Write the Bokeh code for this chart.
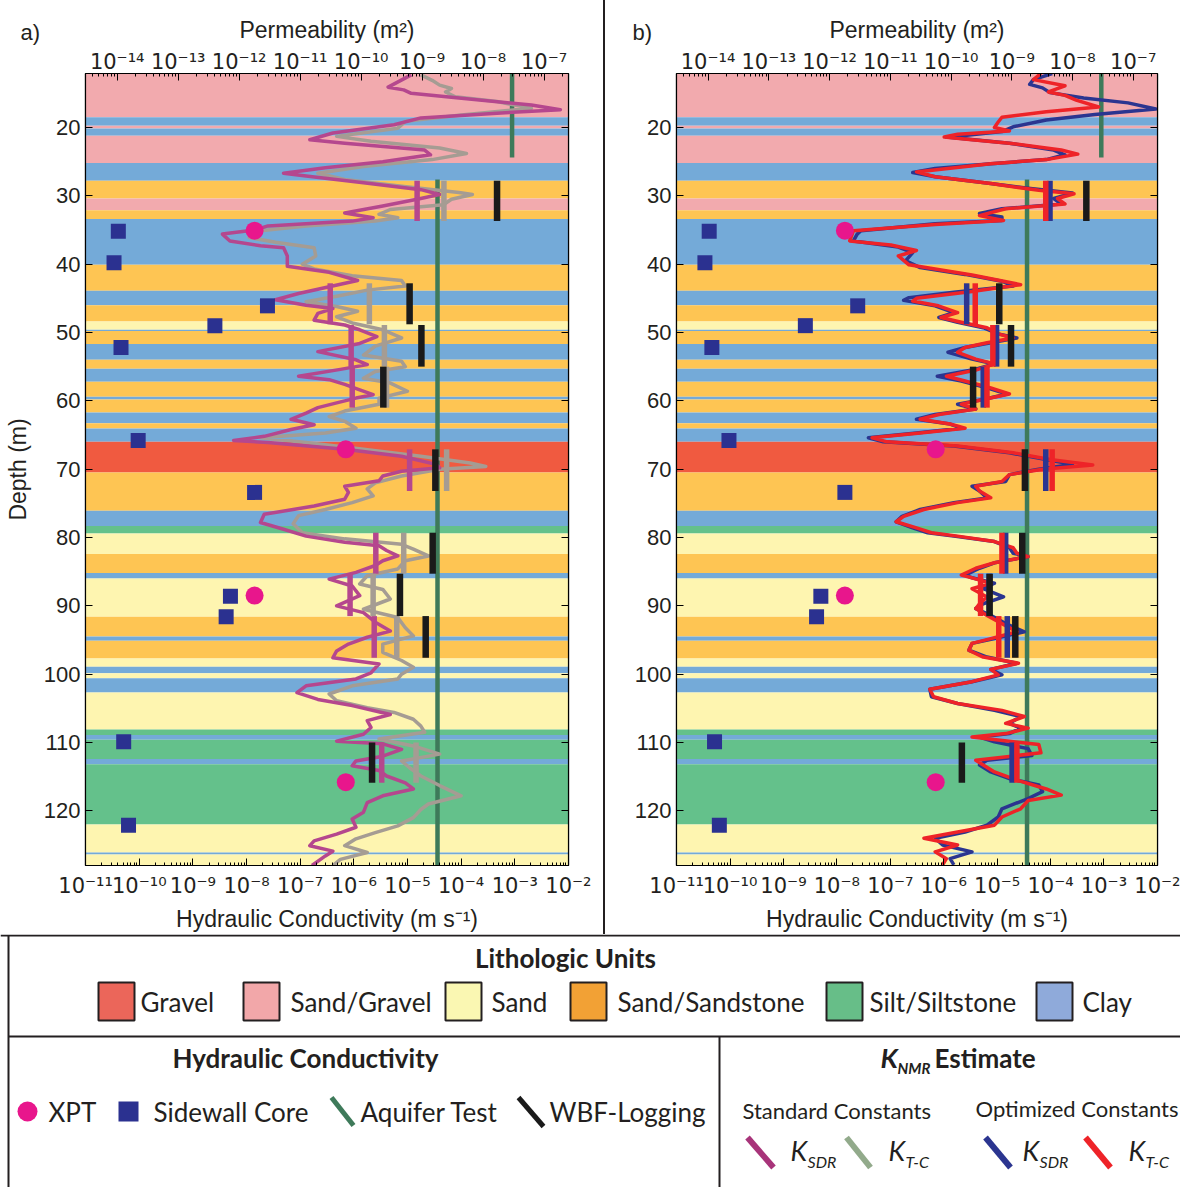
import numpy as np
from bokeh.plotting import figure
from bokeh.models import (Range1d, LogScale, LogAxis, LinearAxis, FixedTicker, Title,
                          CustomJSTickFormatter, ColumnDataSource, Label, Div)
from bokeh.layouts import row, column
from bokeh.embed import file_html
from bokeh.resources import INLINE

AX_FONT = "Liberation Sans"
TICK_FONT = "DejaVu Sans"
LEG_FONT = "Lato"
TXT = "#231F20"

# ---------------- data ----------------
# lithologic bands (depth m)
band_top = [12.1, 18.5, 19.75, 20.15, 21.2, 25.2, 27.8, 30.4, 32.1, 33.4, 40.1, 43.9, 46.0, 48.4, 49.6,
            49.8, 51.7, 54.0, 55.3, 57.2, 59.4, 59.8, 61.7, 63.3, 64.05, 66.0, 70.5, 76.1, 78.3, 79.4,
            82.4, 85.2, 86.0, 91.6, 94.5, 95.1, 97.7, 98.9, 99.85, 100.6, 102.7, 108.1, 108.9, 109.6,
            112.4, 113.2, 122.0, 126.1, 126.4]
band_bot = band_top[1:] + [128.0]
band_unit = ["Sand/Gravel", "Clay", "Sand/Gravel", "Clay", "Sand/Gravel", "Clay", "Sand/Sandstone",
             "Sand/Gravel", "Sand/Sandstone", "Clay", "Sand/Sandstone", "Clay", "Sand/Sandstone", "Sand",
             "Clay", "Sand/Sandstone", "Clay", "Sand/Sandstone", "Clay", "Sand/Sandstone", "Clay",
             "Sand/Sandstone", "Clay", "Sand/Sandstone", "Clay", "Gravel", "Sand/Sandstone", "Clay",
             "Silt/Siltstone", "Sand", "Sand/Sandstone", "Clay", "Sand", "Sand/Sandstone", "Clay",
             "Sand/Sandstone", "Sand", "Clay", "Sand", "Clay", "Sand", "Silt/Siltstone", "Clay",
             "Silt/Siltstone", "Clay", "Silt/Siltstone", "Sand", "Clay", "Sand"]

# NMR estimates: (depth m, log10 K [m/s])
ksdr_std = [(12.3, -4.93), (14.1, -5.36), (14.5, -5.07), (15.0, -4.93), (15.7, -4.04), (16.7, -2.69),
            (17.4, -2.15), (17.9, -3.33), (18.6, -4.75), (19.6, -5.25), (20.8, -6.39), (21.8, -6.82),
            (22.3, -6.17), (23.3, -4.68), (24.0, -4.57), (25.0, -5.46), (25.9, -6.53), (26.7, -7.31),
            (27.1, -6.89), (28.1, -5.82), (29.1, -4.75), (29.8, -4.40), (30.5, -4.82), (31.5, -5.46),
            (32.5, -6.17), (33.2, -5.64), (33.7, -6.03), (34.4, -7.60), (35.0, -7.85), (35.6, -8.45),
            (36.6, -8.31), (37.3, -7.74), (37.6, -7.31), (38.8, -7.24), (40.3, -7.24), (41.2, -6.46),
            (42.4, -5.93), (43.3, -6.46), (44.3, -7.03), (45.2, -7.46), (46.0, -6.89), (46.5, -6.39),
            (47.2, -6.67), (48.2, -6.74), (48.9, -6.17), (49.6, -5.89), (50.6, -5.57), (51.6, -5.89),
            (52.8, -6.67), (54.0, -5.96), (54.7, -5.75), (55.4, -6.25), (56.4, -7.03), (56.9, -6.46),
            (57.6, -6.17), (58.4, -5.89), (59.1, -5.64), (59.6, -5.96), (60.3, -6.32), (61.0, -6.67),
            (61.8, -6.89), (62.7, -7.17), (63.5, -6.74), (64.2, -7.17), (65.2, -7.67), (65.8, -8.24),
            (66.1, -7.60), (67.1, -6.17), (68.1, -5.11), (69.3, -4.47), (69.8, -4.40), (70.3, -5.11),
            (71.0, -5.46), (71.7, -5.53), (72.5, -6.17), (73.4, -6.10), (74.4, -6.17), (75.4, -6.74),
            (76.6, -7.67), (77.8, -7.74), (78.8, -7.31), (79.8, -6.89), (80.7, -6.17), (81.2, -5.53),
            (81.9, -5.39), (82.7, -5.18), (83.4, -5.46), (84.1, -5.60), (85.1, -5.96), (86.1, -6.46),
            (87.1, -6.03), (88.5, -5.89), (90.0, -6.32), (91.0, -5.82), (92.4, -5.60), (93.7, -5.32),
            (94.6, -5.75), (95.6, -6.10), (96.6, -6.32), (97.6, -6.39), (98.5, -5.53), (99.8, -5.68),
            (100.7, -5.96), (101.7, -6.89), (102.7, -7.06), (103.7, -6.67), (104.6, -6.03), (105.9, -5.32),
            (106.8, -5.75), (107.8, -5.68), (108.8, -5.82), (109.8, -6.32), (110.2, -5.46), (111.0, -5.11),
            (112.0, -5.46), (112.7, -5.96), (113.4, -6.03), (114.1, -5.53), (114.9, -5.39), (115.9, -5.04),
            (116.8, -4.89), (117.8, -5.46), (118.8, -5.75), (120.2, -5.82), (121.2, -6.03), (122.4, -5.96),
            (123.4, -6.32), (124.4, -6.74), (125.1, -6.82), (125.9, -6.39), (126.6, -6.53), (128.0, -6.78)]

ktc_std = [(12.3, -4.75), (13.1, -4.54), (13.8, -4.40), (14.3, -4.18), (14.8, -4.29), (15.5, -4.11),
           (16.2, -3.33), (17.2, -2.69), (18.2, -4.04), (19.1, -5.04), (20.1, -5.18), (21.3, -6.32),
           (22.0, -5.68), (23.0, -4.40), (23.8, -3.90), (24.7, -4.54), (25.7, -5.82), (26.7, -6.67),
           (27.6, -6.17), (28.6, -5.11), (29.5, -4.04), (29.8, -3.79), (30.5, -4.18), (31.3, -4.33),
           (32.0, -5.32), (32.7, -5.53), (33.2, -5.18), (33.7, -5.60), (34.4, -6.89), (35.1, -7.74),
           (36.1, -7.95), (36.8, -7.46), (37.6, -6.74), (38.8, -6.71), (40.0, -6.96), (40.7, -6.74),
           (41.7, -6.03), (42.4, -5.11), (43.2, -5.04), (43.8, -5.75), (44.7, -6.32), (45.5, -6.89),
           (46.2, -6.32), (46.9, -5.93), (47.7, -6.32), (48.6, -6.03), (49.6, -5.46), (50.8, -5.11),
           (52.0, -5.60), (53.3, -5.82), (54.2, -5.11), (55.0, -5.04), (55.7, -5.60), (56.7, -5.82),
           (57.4, -5.32), (58.6, -5.00), (59.6, -5.53), (60.5, -5.53), (61.5, -6.17), (62.3, -6.46),
           (63.0, -6.17), (64.0, -5.96), (64.7, -6.53), (65.4, -7.74), (66.1, -6.89), (67.1, -5.82),
           (68.1, -4.75), (69.1, -3.83), (69.6, -3.54), (70.0, -4.40), (71.0, -5.11), (72.0, -5.60),
           (72.9, -5.75), (73.9, -5.64), (74.9, -6.03), (75.9, -6.53), (76.8, -7.03), (78.0, -7.13),
           (79.3, -6.96), (80.2, -6.17), (81.0, -5.11), (81.7, -4.89), (82.7, -4.61), (83.4, -5.04),
           (84.6, -5.18), (85.6, -5.75), (86.8, -5.89), (87.6, -5.46), (89.0, -5.32), (90.5, -5.82),
           (91.7, -5.18), (93.2, -5.04), (94.4, -4.89), (95.6, -5.46), (96.8, -5.46), (98.0, -5.11),
           (99.0, -4.89), (100.0, -5.11), (100.7, -5.18), (101.7, -6.03), (102.9, -6.46), (103.9, -6.32),
           (104.9, -5.75), (105.6, -5.25), (106.6, -4.89), (107.6, -4.75), (108.5, -4.68), (109.5, -5.53),
           (110.5, -4.89), (111.7, -4.40), (112.7, -5.11), (113.7, -4.96), (114.9, -4.75), (116.3, -4.40),
           (117.8, -4.00), (119.0, -4.61), (119.8, -4.75), (121.0, -4.89), (122.2, -5.18), (123.2, -5.60),
           (124.1, -5.96), (125.1, -6.17), (126.1, -5.75), (127.1, -6.25), (128.0, -6.39)]

ksdr_opt = [(12.1, -3.97), (13.0, -4.32), (13.7, -4.39), (14.2, -4.15), (14.9, -4.01), (15.7, -3.38),
            (16.4, -2.55), (17.3, -2.03), (18.1, -3.17), (18.9, -4.08), (19.9, -4.70), (20.6, -4.91),
            (21.3, -5.74), (21.4, -5.95), (22.3, -4.77), (23.3, -3.94), (24.0, -3.73), (24.7, -4.08),
            (25.3, -5.12), (26.0, -6.16), (26.6, -6.58), (27.2, -6.16), (28.2, -5.12), (28.9, -4.42),
            (29.6, -3.59), (30.4, -3.94), (31.2, -3.80), (31.9, -4.91), (32.6, -5.33), (33.1, -4.91),
            (33.6, -4.91), (34.1, -6.16), (35.1, -7.55), (35.6, -7.62), (36.6, -7.69), (37.5, -6.85),
            (38.3, -6.58), (39.5, -6.71), (40.5, -6.44), (41.5, -5.60), (42.5, -4.91), (43.2, -4.70),
            (44.1, -5.81), (44.9, -6.65), (45.3, -6.75), (46.1, -6.16), (47.1, -5.81), (47.8, -6.09),
            (48.5, -5.74), (49.3, -5.26), (50.2, -4.98), (50.8, -4.63), (51.5, -5.12), (52.2, -5.60),
            (52.9, -5.92), (53.9, -5.47), (54.6, -5.05), (55.5, -5.47), (56.4, -6.12), (57.1, -5.67),
            (58.1, -5.19), (59.0, -4.81), (59.8, -5.26), (60.5, -5.74), (61.2, -5.40), (62.0, -6.16),
            (62.7, -6.51), (63.4, -5.88), (64.0, -5.67), (64.7, -6.51), (65.4, -7.41), (66.0, -7.13),
            (66.6, -5.81), (67.6, -4.77), (68.6, -4.08), (69.3, -3.59), (70.0, -4.22), (70.8, -4.77),
            (71.8, -4.84), (72.5, -5.47), (73.2, -5.33), (74.2, -5.19), (74.9, -5.81), (75.9, -6.44),
            (76.9, -6.78), (77.7, -6.89), (78.6, -6.58), (79.3, -6.30), (79.8, -5.81), (80.6, -5.05),
            (81.5, -4.77), (82.3, -4.70), (82.8, -4.42), (83.7, -5.05), (84.5, -5.33), (85.5, -5.60),
            (85.9, -5.47), (86.7, -5.05), (87.5, -5.26), (88.7, -4.88), (89.7, -5.26), (90.4, -5.40),
            (91.4, -5.12), (92.6, -4.84), (93.8, -4.49), (94.8, -5.05), (95.5, -5.47), (96.5, -5.53),
            (97.5, -5.19), (98.4, -4.63), (99.3, -5.12), (100.1, -4.91), (101.1, -5.47), (102.2, -6.26),
            (103.3, -6.23), (104.3, -5.74), (105.3, -5.05), (106.2, -4.56), (107.2, -4.77), (107.9, -4.56),
            (108.7, -4.77), (109.2, -5.33), (109.9, -5.05), (110.9, -4.42), (111.9, -4.35), (112.6, -5.19),
            (113.3, -5.33), (114.3, -5.12), (115.3, -4.77), (116.2, -4.22), (117.2, -4.15), (118.2, -4.42),
            (119.7, -4.91), (120.9, -4.98), (122.1, -5.19), (123.1, -5.60), (124.0, -6.16), (125.0, -6.02),
            (126.0, -5.47), (127.0, -5.88), (127.9, -5.81)]

ktc_opt = [(12.1, -4.18), (13.0, -4.32), (13.9, -3.73), (14.8, -4.04), (15.3, -3.73), (16.0, -3.52),
           (17.0, -3.10), (17.7, -4.08), (18.5, -4.91), (19.2, -4.98), (20.0, -5.05), (20.5, -4.77),
           (21.0, -5.74), (21.4, -5.99), (21.8, -5.47), (22.3, -4.77), (23.3, -3.80), (23.9, -3.49),
           (24.7, -4.08), (25.3, -5.12), (26.5, -6.51), (27.2, -6.16), (28.2, -5.12), (29.2, -4.22),
           (29.7, -3.56), (30.4, -3.87), (31.2, -3.73), (31.9, -4.84), (32.9, -5.33), (33.6, -4.88),
           (34.2, -6.16), (35.1, -7.69), (36.6, -7.76), (37.2, -6.99), (38.0, -6.51), (38.8, -6.85),
           (40.1, -6.65), (41.6, -5.47), (43.0, -4.56), (44.0, -5.47), (45.0, -6.51), (45.4, -6.58),
           (46.1, -6.10), (47.1, -5.74), (47.8, -6.05), (48.5, -5.67), (49.3, -5.19), (50.2, -4.98),
           (50.8, -4.70), (51.5, -5.19), (52.2, -5.60), (52.9, -5.74), (53.9, -5.40), (54.6, -5.05),
           (55.5, -5.40), (56.4, -5.95), (57.1, -5.60), (58.1, -5.12), (59.0, -4.77), (59.8, -5.26),
           (60.5, -5.67), (61.2, -5.40), (62.0, -6.09), (62.7, -6.44), (63.4, -5.88), (64.0, -5.60),
           (64.7, -6.44), (65.4, -7.34), (66.0, -7.06), (66.6, -5.74), (67.6, -4.70), (68.6, -4.01),
           (69.4, -3.21), (70.0, -4.15), (70.8, -4.77), (71.8, -4.91), (72.5, -5.40), (73.2, -5.33),
           (74.2, -5.12), (74.9, -5.74), (75.9, -6.37), (76.9, -6.75), (77.7, -6.89), (78.6, -6.51),
           (79.3, -6.23), (79.8, -5.74), (80.6, -5.05), (81.5, -4.70), (82.3, -4.63), (82.8, -4.42),
           (83.7, -5.05), (84.5, -5.40), (85.5, -5.67), (85.9, -5.47), (86.7, -5.12), (87.5, -5.47),
           (88.7, -5.19), (89.7, -5.33), (90.4, -5.40), (91.4, -5.19), (92.6, -4.91), (93.8, -4.63),
           (94.8, -5.12), (95.5, -5.47), (96.5, -5.53), (97.5, -5.26), (98.4, -4.60), (99.3, -5.12),
           (100.1, -4.98), (101.1, -5.47), (102.2, -6.26), (103.3, -6.19), (104.3, -5.74), (105.3, -4.91),
           (106.2, -4.49), (107.2, -4.84), (107.9, -4.42), (108.7, -4.84), (109.2, -5.47), (110.3, -4.22),
           (111.5, -4.18), (112.6, -5.40), (113.3, -5.26), (114.3, -5.05), (115.5, -4.63), (116.8, -4.08),
           (117.7, -3.80), (118.5, -4.42), (119.7, -4.56), (120.9, -4.91), (122.1, -5.05), (123.1, -5.74),
           (124.0, -6.37), (125.0, -5.74), (126.0, -6.16), (127.0, -5.95), (127.9, -6.02)]

# interval averages (depth top/bottom, log10 K)
avg_top = [27.8, 42.8, 48.9, 55.0, 67.1, 79.3, 85.3, 91.5, 110.0]
avg_bot = [33.7, 48.8, 55.0, 61.0, 73.2, 85.3, 91.5, 97.6, 115.9]
wbf_log = [-3.33, -4.96, -4.74, -5.45, -4.48, -4.53, -5.14, -4.66, -5.66]
ksdr_std_avg = [-4.82, -6.44, -6.05, -6.03, -4.96, -5.59, -6.07, -5.62, -5.48]
ktc_std_avg = [-4.32, -5.71, -5.43, -5.39, -4.27, -5.07, -5.64, -5.20, -4.84]
ksdr_opt_avg = [-4.01, -5.57, -5.01, -5.26, -4.09, -4.84, -5.15, -4.81, -4.72]
ktc_opt_avg = [-4.09, -5.41, -5.08, -5.19, -3.97, -4.91, -5.31, -4.97, -4.63]

# aquifer tests
aq_top = [12.1, 27.6]
aq_bot = [24.4, 128.0]
aq_log = [-3.05, -4.44]

# XPT and sidewall core
xpt_depth = [35.1, 67.1, 88.5, 115.8]
xpt_log = [-7.85, -6.15, -7.85, -6.15]
core_depth = [35.2, 39.8, 46.1, 49.0, 52.2, 65.8, 73.4, 88.6, 91.6, 109.9, 122.1]
core_log = [-10.39, -10.47, -7.61, -8.59, -10.34, -10.02, -7.85, -8.30, -8.38, -10.29, -10.20]

k_ticks = list(range(-11, -1))        # exponents, bottom axis
perm_ticks = list(range(-14, -6))     # exponents, top axis
depth_ticks = [20, 30, 40, 50, 60, 70, 80, 90, 100, 110, 120]

unit_names = ["Gravel", "Sand/Gravel", "Sand", "Sand/Sandstone", "Silt/Siltstone", "Clay"]
band_colors = {"Gravel": "#F05A40", "Sand/Gravel": "#F2AAAE", "Sand": "#FEF5B0",
               "Sand/Sandstone": "#FEC553", "Silt/Siltstone": "#64C18B", "Clay": "#74AAD8"}
swatch_colors = ["#EB665A", "#F2A7A9", "#FAF7B2", "#F2A135", "#67BE88", "#8FAADA"]

C_KSDR_STD = "#B5478E"
C_KTC_STD = "#A59C93"
C_KSDR_OPT = "#2B3590"
C_KTC_OPT = "#EE2328"
C_AQ = "#3E7A5A"
C_WBF = "#1A1A1A"
C_XPT = "#E8168C"
C_CORE = "#2B3190"

K_LO, K_HI = 10 ** -11.002, 10 ** -1.998
PERM_LO, PERM_HI = 10 ** -14.52, 10 ** -6.60
DEPTH_TOP, DEPTH_BOT = 12.1, 128.0

SUP_JS = """
const e = Math.round(Math.log10(tick));
const m = {"-":"\u207b","0":"\u2070","1":"\u00b9","2":"\u00b2","3":"\u00b3","4":"\u2074",
           "5":"\u2075","6":"\u2076","7":"\u2077","8":"\u2078","9":"\u2079"};
return "10" + String(e).split("").map(c => m[c]).join("");
"""


def style_axis(ax, tick_font=AX_FONT, tick_size="22px", label_size="23px"):
    ax.axis_line_color = "black"
    ax.axis_line_width = 1.2
    ax.major_tick_line_color = "black"
    ax.major_tick_in = 7
    ax.major_tick_out = 0
    ax.minor_tick_line_color = "black"
    ax.minor_tick_in = 3
    ax.minor_tick_out = 0
    ax.major_label_text_font = tick_font
    ax.major_label_text_font_size = tick_size
    ax.major_label_text_color = TXT
    ax.axis_label_text_font = AX_FONT
    ax.axis_label_text_font_size = label_size
    ax.axis_label_text_font_style = "normal"
    ax.axis_label_text_color = TXT


def log_ticker(exps):
    return FixedTicker(ticks=[10.0 ** e for e in exps],
                       minor_ticks=[m * 10.0 ** e for e in range(exps[0] - 1, exps[-1] + 1) for m in range(2, 10)])


def build_panel(tag, width, left, right, series, avgs, tag_offset):
    p = figure(width=width, height=934, x_axis_type="log",
               x_range=Range1d(K_LO, K_HI), y_range=Range1d(DEPTH_BOT, DEPTH_TOP),
               output_backend="svg", toolbar_location=None,
               min_border_left=left, min_border_right=right, min_border_top=73, min_border_bottom=69)
    p.xgrid.visible = False
    p.ygrid.visible = False
    p.outline_line_color = "black"
    p.outline_line_width = 1.2
    p.background_fill_color = "white"
    p.border_fill_color = "white"

    # panel tag as a compact title; leading blank lines push the tag down beside the top axis
    p.title = Title(text="\n\n" + tag, align="left", offset=tag_offset, standoff=-68, vertical_align="top",
                    text_font=AX_FONT, text_font_size="22px", text_font_style="normal", text_color=TXT,
                    text_line_height=0.95)

    # bands
    n = len(band_top)
    src = ColumnDataSource(dict(top=band_top, bottom=band_bot,
                                left=[K_LO] * n, right=[K_HI] * n,
                                color=[band_colors[u] for u in band_unit]))
    p.quad(top="top", bottom="bottom", left="left", right="right", fill_color="color",
           line_color=None, source=src)

    # aquifer test
    aq = [10.0 ** v for v in aq_log]
    p.segment(x0=aq, x1=aq, y0=aq_top, y1=aq_bot, line_color=C_AQ, line_width=4.5)

    # NMR curves
    for data, col in series:
        p.line(x=[10.0 ** v for _, v in data], y=[d for d, _ in data], line_color=col,
               line_width=3.5, line_join="round")

    # interval averages
    for vals, col, lw in avgs:
        xs = [10.0 ** v for v in vals]
        p.segment(x0=xs, x1=xs, y0=avg_top, y1=avg_bot, line_color=col, line_width=lw)

    # point data
    p.scatter(x=[10.0 ** v for v in core_log], y=core_depth, marker="square", size=15,
              fill_color=C_CORE, line_color=None)
    p.scatter(x=[10.0 ** v for v in xpt_log], y=xpt_depth, marker="circle", size=18,
              fill_color=C_XPT, line_color=None)

    # bottom axis
    xa = p.xaxis[0]
    xa.ticker = log_ticker(k_ticks)
    xa.formatter = CustomJSTickFormatter(code=SUP_JS)
    xa.axis_label = "Hydraulic Conductivity (m s\u207b\u00b9)"
    style_axis(xa, TICK_FONT, "21px", "23px")
    xa.major_label_standoff = 8
    xa.axis_label_standoff = 5

    # top axis (permeability)
    p.extra_x_ranges = {"perm": Range1d(PERM_LO, PERM_HI)}
    p.extra_x_scales = {"perm": LogScale()}
    ta = LogAxis(x_range_name="perm", ticker=log_ticker(perm_ticks),
                 formatter=CustomJSTickFormatter(code=SUP_JS), axis_label="Permeability (m\u00b2)")
    style_axis(ta, TICK_FONT, "21px")
    ta.major_label_standoff = 0
    ta.axis_label_standoff = 4
    p.add_layout(ta, "above")

    # depth axis
    ya = p.yaxis[0]
    ya.ticker = FixedTicker(ticks=depth_ticks, minor_ticks=[])
    ya.axis_label = "Depth (m)" if tag == "a)" else None
    style_axis(ya)
    ya.major_label_standoff = 5
    ya.axis_label_standoff = 10
    ra = LinearAxis(ticker=FixedTicker(ticks=depth_ticks, minor_ticks=[]),
                    formatter=CustomJSTickFormatter(code="return '';"))
    style_axis(ra)
    ra.major_label_standoff = 0
    p.add_layout(ra, "right")
    return p


pa = build_panel("a)", 603, 85, 35,
                 [(ktc_std, C_KTC_STD), (ksdr_std, C_KSDR_STD)],
                 [(ksdr_std_avg, C_KSDR_STD, 5.5), (ktc_std_avg, C_KTC_STD, 5.5), (wbf_log, C_WBF, 6.5)],
                 -65)

pb = build_panel("b)", 575, 71, 23,
                 [(ksdr_opt, C_KSDR_OPT), (ktc_opt, C_KTC_OPT)],
                 [(ksdr_opt_avg, C_KSDR_OPT, 5.5), (ktc_opt_avg, C_KTC_OPT, 5.5), (wbf_log, C_WBF, 6.5)],
                 -44)

divider = Div(width=2, height=934, margin=0, styles={"background-color": TXT})

# ---------------- legend ----------------
LW, LH = 1180, 253
lg = figure(width=LW, height=LH, x_range=Range1d(0, LW), y_range=Range1d(LH, 0),
            output_backend="svg", toolbar_location=None, min_border=0,
            x_axis_location=None, y_axis_location=None, outline_line_color=None)
lg.xgrid.visible = False
lg.ygrid.visible = False

lg.segment(x0=[0, 8, 719, 8], y0=[1, 102, 102, 1], x1=[LW, LW, 719, 8], y1=[1, 102, LH, LH],
           line_color=TXT, line_width=2)


def lab(x, y, text, size, style="normal", align="left", font=LEG_FONT):
    lg.add_layout(Label(x=x, y=y, text=text, text_font=font, text_font_size=size,
                        text_font_style=style, text_align=align, text_baseline="middle",
                        text_color=TXT))


lab(565, 23, "Lithologic Units", "26px", "bold", "center")
sw_left = [98, 243, 445, 570, 826, 1036]
sw_text = [140, 290, 491, 617, 869, 1082]
lg.quad(left=sw_left, right=[v + 36 for v in sw_left], top=[48] * 6, bottom=[86] * 6,
        fill_color=swatch_colors, line_color=TXT, line_width=2)
for x, t in zip(sw_text, unit_names):
    lab(x, 67, t, "26px")

lab(305, 123, "Hydraulic Conductivity", "26px", "bold", "center")
lg.scatter(x=[27], y=[177], marker="circle", size=20, fill_color=C_XPT, line_color=None)
lab(48, 177, "XPT", "26px")
lg.scatter(x=[128], y=[177], marker="square", size=20, fill_color=C_CORE, line_color=None)
lab(153, 177, "Sidewall Core", "26px")
lg.segment(x0=[331, 518], y0=[163, 163], x1=[353, 543], y1=[191, 192],
           line_color=[C_AQ, C_WBF], line_width=5)
lab(360, 177, "Aquifer Test", "26px")
lab(549, 177, "WBF-Logging", "26px")

lab(880, 123, "K", "27px", "bold italic")
lab(897, 133, "NMR", "15px", "bold italic")
lab(934, 123, "Estimate", "26px", "bold")
lab(742, 176, "Standard Constants", "22px")
lab(975, 174, "Optimized Constants", "22px")
lg.segment(x0=[747, 846, 985, 1085], y0=[203] * 4, x1=[773, 870, 1010, 1110], y1=[233] * 4,
           line_color=["#A8347A", "#92AA8B", C_KSDR_OPT, C_KTC_OPT], line_width=6)
for xk, sub in [(790, "SDR"), (888, "T-C"), (1022, "SDR"), (1128, "T-C")]:
    lab(xk, 216, "K", "27px", "italic")
    lab(xk + 17, 227, sub, "16px", "italic")

layout = column(row(pa, divider, pb, spacing=0), lg, spacing=0)

with open("out.html", "w") as f:
    f.write(file_html(layout, INLINE))
